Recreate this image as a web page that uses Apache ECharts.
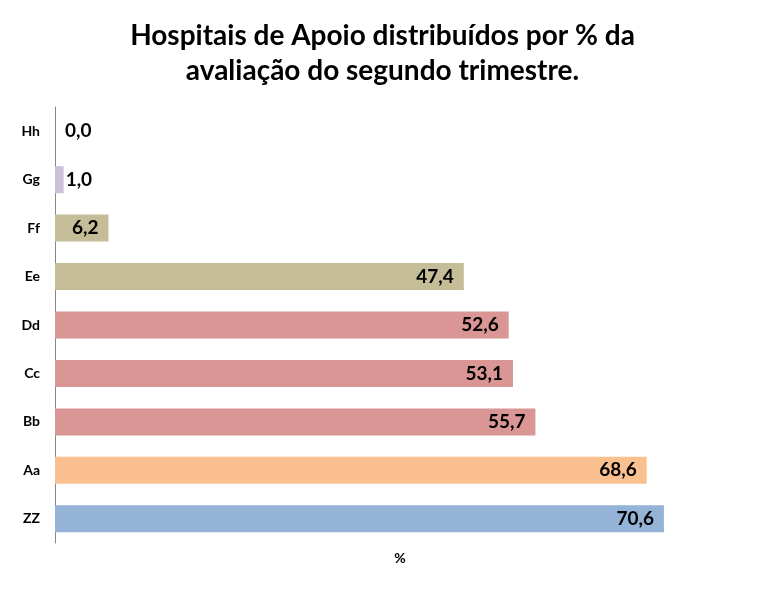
<!DOCTYPE html>
<html><head><meta charset="utf-8">
<script src="https://cdn.jsdelivr.net/npm/echarts@6/dist/echarts.min.js"></script>
<style>html,body{margin:0;padding:0;background:#fff}#c{width:765px;height:589px}</style>
</head><body><div id="c"></div>
<script>
const categories = ['ZZ','Aa','Bb','Cc','Dd','Ee','Ff','Gg','Hh'];
const values = [70.6, 68.6, 55.7, 53.1, 52.6, 47.4, 6.2, 1.0, 0.0];
const colors = ['#95B3D7','#FAC090','#D99694','#D99694','#D99694','#C4BD97','#C4BD97','#CCC1DA','#CCC1DA'];
const titleText = 'Hospitais de Apoio distribuídos por % da\navaliação do segundo trimestre.';
const axisName = '%';

const FONT = 'Lato, "Open Sans", sans-serif';
const data = values.map((v, i) => ({
  value: v,
  itemStyle: { color: colors[i] },
  label: v < 3 ? { position: 'right', distance: v === 0 ? 10 : 2 } : { position: 'insideRight', distance: 10 }
}));

const chart = echarts.init(document.getElementById('c'));
chart.setOption({
  animation: false,
  title: {
    text: titleText, left: 'center', top: 13,
    textStyle: { fontFamily: FONT, fontWeight: 'bold', fontSize: 28, lineHeight: 35, color: '#000' }
  },
  grid: { left: 55, right: 20, top: 107, bottom: 46 },
  xAxis: {
    type: 'value', min: 0, max: 80, show: true,
    axisLine: { show: false }, axisTick: { show: false }, axisLabel: { show: false },
    splitLine: { show: false },
    name: axisName, nameLocation: 'middle', nameGap: 8,
    nameTextStyle: { fontFamily: FONT, fontWeight: 'bold', fontSize: 14, color: '#000' }
  },
  yAxis: {
    type: 'category', data: categories,
    axisLine: { show: true, lineStyle: { color: '#868686', width: 1 } },
    axisTick: { show: false },
    axisLabel: { margin: 15, fontFamily: FONT, fontWeight: 'bold', fontSize: 14, color: '#000' }
  },
  series: [{
    type: 'bar', data: data, barWidth: 27,
    label: {
      show: true, fontFamily: FONT, fontWeight: 'bold', fontSize: 19, color: '#000',
      formatter: p => p.value.toFixed(1).replace('.', ',')
    }
  }]
});
</script></body></html>
